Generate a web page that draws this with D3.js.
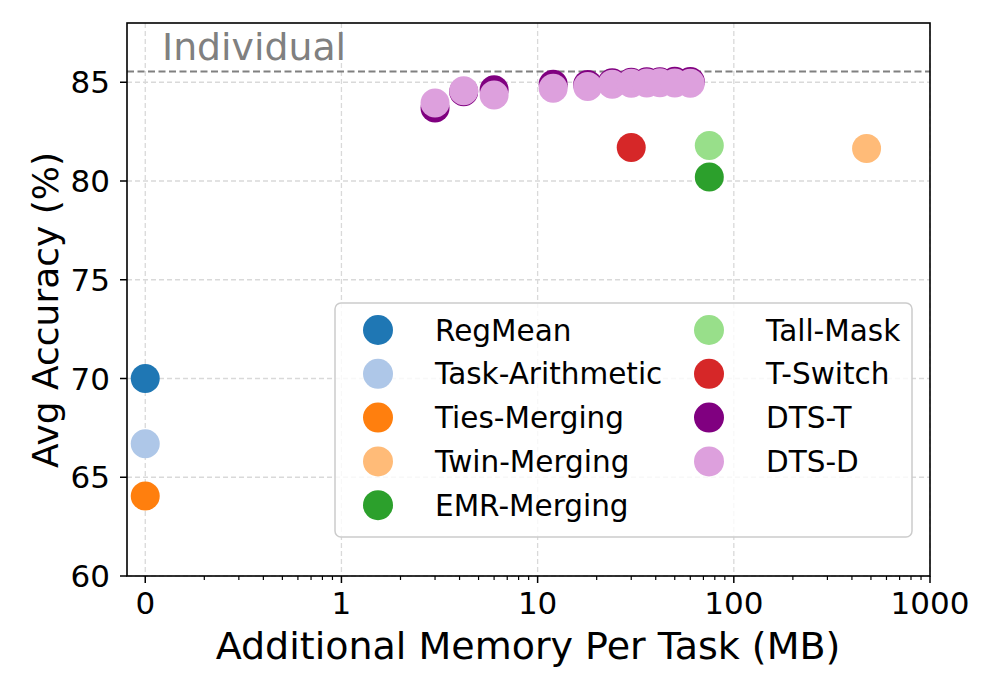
<!DOCTYPE html>
<html>
<head>
<meta charset="utf-8">
<script src="https://cdn.jsdelivr.net/npm/d3@7"></script>
<style>
  html, body { margin: 0; padding: 0; background: #fff; }
  svg { display: block; font-family: "DejaVu Sans", sans-serif; }
</style>
</head>
<body>
<svg id="chart" width="997" height="690"></svg>
<script>
// ---------- data ----------
const methods = ["RegMean", "Task-Arithmetic", "Ties-Merging", "Twin-Merging", "EMR-Merging",
                 "Tall-Mask", "T-Switch", "DTS-T", "DTS-D"];
const colors = ["#1f77b4", "#aec7e8", "#ff7f0e", "#ffbb78", "#2ca02c",
                "#98df8a", "#d62728", "#800080", "#dda0dd"];

const regMeanX = [0],   regMeanY = [70.0];
const taskArithX = [0], taskArithY = [66.7];
const tiesX = [0],      tiesY = [64.05];
const twinX = [475],    twinY = [81.65];
const emrX = [75],      emrY = [80.2];
const tallMaskX = [75], tallMaskY = [81.8];
const tSwitchX = [30],  tSwitchY = [81.7];
const dtsX  = [3, 4.2, 6, 12, 18, 24, 30, 36, 42, 50, 60];
const dtsTY = [83.7, 84.52, 84.62, 84.9, 84.88, 84.97, 85.0, 85.02, 85.03, 85.05, 85.04];
const dtsDY = [83.95, 84.57, 84.35, 84.7, 84.78, 84.9, 84.95, 84.96, 84.97, 84.96, 84.95];

const seriesX = [regMeanX, taskArithX, tiesX, twinX, emrX, tallMaskX, tSwitchX, dtsX, dtsX];
const seriesY = [regMeanY, taskArithY, tiesY, twinY, emrY, tallMaskY, tSwitchY, dtsTY, dtsDY];

const xTickValues = [0, 1, 10, 100, 1000];
const xTickLabels = ["0", "1", "10", "100", "1000"];
const yTickValues = [60, 65, 70, 75, 80, 85];
const individualAcc = 85.55;
const xLabel = "Additional Memory Per Task (MB)";
const yLabel = "Avg Accuracy (%)";

// ---------- layout ----------
const L = 127, R = 930, T = 23, B = 576;
const svg = d3.select("#chart");

// symlog transform (linear on [0,1], log10 beyond)
const symT = v => Math.abs(v) <= 1 ? v : Math.sign(v) * (1 + Math.log10(Math.abs(v)));
const xLin = d3.scaleLinear().domain([-0.093, 4]).range([L, R]);
const x = v => xLin(symT(v));
const y = d3.scaleLinear().domain([60, 88]).range([B, T]);

// minor ticks
const minorX = [];
for (let k = 2; k <= 9; k++) minorX.push(1 + Math.log10(k / 10));      // in 0..1 region
[1, 10, 100].forEach(d => { for (let k = 2; k <= 9; k++) minorX.push(symT(d * k)); });

// ---------- grid ----------
const grid = svg.append("g");
xTickValues.forEach(v => {
  grid.append("line").attr("x1", x(v)).attr("x2", x(v)).attr("y1", T).attr("y2", B)
    .attr("stroke", "#d9d9d9").attr("stroke-width", 1.3).attr("stroke-dasharray", "5,3");
});
yTickValues.forEach(v => {
  grid.append("line").attr("x1", L).attr("x2", R).attr("y1", y(v)).attr("y2", y(v))
    .attr("stroke", "#d9d9d9").attr("stroke-width", 1.3).attr("stroke-dasharray", "5,3");
});

// ---------- individual reference line ----------
svg.append("line").attr("x1", L).attr("x2", R)
  .attr("y1", y(individualAcc)).attr("y2", y(individualAcc))
  .attr("stroke", "#808080").attr("stroke-width", 2).attr("stroke-dasharray", "7,3.5");
svg.append("text").attr("x", 162).attr("y", 60).text("Individual")
  .attr("font-size", 37.8).attr("fill", "#808080");

// ---------- points ----------
const pts = svg.append("g");
methods.forEach((m, i) => {
  const data = seriesX[i].map((xv, j) => ({ x: xv, y: seriesY[i][j] }));
  pts.selectAll(null).data(data).enter().append("circle")
    .attr("cx", d => x(d.x)).attr("cy", d => y(d.y)).attr("r", 14.5)
    .attr("fill", colors[i]);
});

// ---------- axes ----------
const ax = svg.append("g");
xTickValues.forEach((v, i) => {
  ax.append("line").attr("x1", x(v)).attr("x2", x(v)).attr("y1", B).attr("y2", B + 7)
    .attr("stroke", "#000").attr("stroke-width", 1.5);
  ax.append("text").attr("x", x(v)).attr("y", B + 38).attr("text-anchor", "middle")
    .attr("font-size", 31).text(xTickLabels[i]);
});
minorX.forEach(t => {
  ax.append("line").attr("x1", xLin(t)).attr("x2", xLin(t)).attr("y1", B).attr("y2", B + 4)
    .attr("stroke", "#000").attr("stroke-width", 1.2);
});
yTickValues.forEach(v => {
  ax.append("line").attr("x1", L - 7).attr("x2", L).attr("y1", y(v)).attr("y2", y(v))
    .attr("stroke", "#000").attr("stroke-width", 1.5);
  ax.append("text").attr("x", L - 17).attr("y", y(v)).attr("dy", "0.36em")
    .attr("text-anchor", "end").attr("font-size", 31).text(v);
});
svg.append("rect").attr("x", L).attr("y", T).attr("width", R - L).attr("height", B - T)
  .attr("fill", "none").attr("stroke", "#000").attr("stroke-width", 1.6);

// axis labels
svg.append("text").attr("x", 528).attr("y", 659).attr("text-anchor", "middle")
  .attr("font-size", 38).text(xLabel);
svg.append("text").attr("transform", "translate(58,310) rotate(-90)")
  .attr("text-anchor", "middle").attr("font-size", 36).text(yLabel);

// ---------- legend ----------
const lg = svg.append("g");
lg.append("rect").attr("x", 335).attr("y", 303).attr("width", 577).attr("height", 234)
  .attr("rx", 6).attr("fill", "#fff").attr("fill-opacity", 0.8)
  .attr("stroke", "#cccccc").attr("stroke-width", 1.5);
const colX = [378, 709], rowY0 = 330, rowDy = 43.8;
methods.forEach((m, i) => {
  const c = i < 5 ? 0 : 1, r = i < 5 ? i : i - 5;
  const cy = rowY0 + r * rowDy;
  lg.append("circle").attr("cx", colX[c]).attr("cy", cy).attr("r", 15).attr("fill", colors[i]);
  lg.append("text").attr("x", colX[c] + 57).attr("y", cy).attr("dy", "0.36em")
    .attr("font-size", 29.5).text(m);
});
</script>
</body>
</html>
